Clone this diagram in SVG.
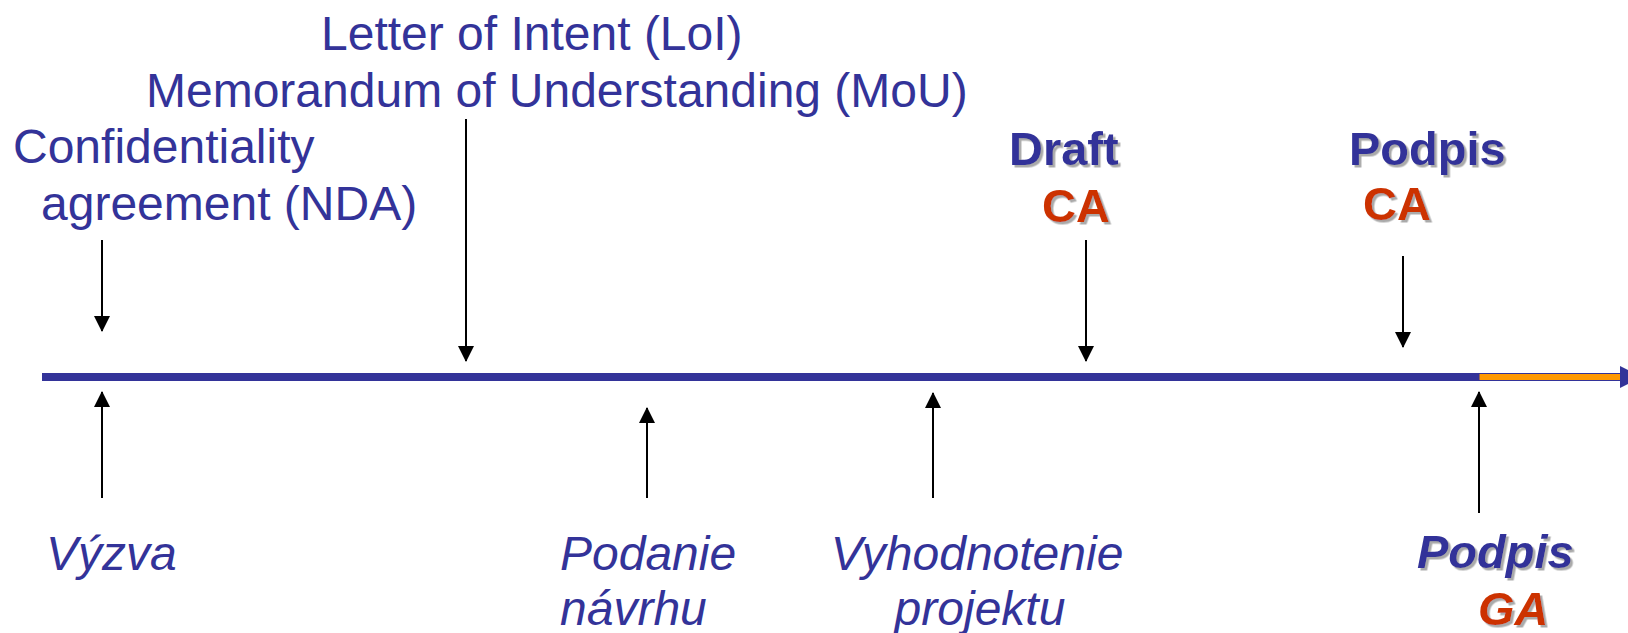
<svg xmlns="http://www.w3.org/2000/svg" width="1628" height="633" viewBox="0 0 1628 633">
<style>
.t{font-family:"Liberation Sans",Arial,sans-serif;font-size:48px;fill:#333399}
.i{font-style:italic}
.b{font-weight:bold;font-size:47px;filter:url(#sh)}
.r{fill:#CC3300}
.a{stroke:#000;stroke-width:2;fill:none;marker-end:url(#ah)}
</style>
<defs>
<marker id="ah" viewBox="0 0 16 16" refX="15" refY="8" markerWidth="16" markerHeight="16" markerUnits="userSpaceOnUse" orient="auto"><path d="M0,0 L16,8 L0,16 z" fill="#000"/></marker>
<filter id="sh" x="-10%" y="-10%" width="130%" height="130%"><feDropShadow dx="2.5" dy="2.5" stdDeviation="0.6" flood-color="#aaaaaa" flood-opacity="1"/></filter>
</defs>
<g id="timeline">
<rect x="42" y="373" width="1437" height="8" fill="#333399"/>
<rect x="1479" y="373.5" width="143" height="7" fill="#FF9900" stroke="#333399" stroke-width="1"/>
<path d="M1620,366 L1642,377 L1620,388 z" fill="#333399"/>
</g>
<g id="connectors">
<line class="a" x1="102" y1="240" x2="102" y2="331"/>
<line class="a" x1="466" y1="119" x2="466" y2="361"/>
<line class="a" x1="1086" y1="240" x2="1086" y2="361"/>
<line class="a" x1="1403" y1="256" x2="1403" y2="347"/>
<line class="a" x1="102" y1="498" x2="102" y2="392"/>
<line class="a" x1="647" y1="498" x2="647" y2="408"/>
<line class="a" x1="933" y1="498" x2="933" y2="393"/>
<line class="a" x1="1479" y1="513" x2="1479" y2="392"/>
</g>
<g id="nda"><text class="t" x="13" y="163">Confidentiality</text><text class="t" x="41" y="220">agreement (NDA)</text></g>
<g id="loi"><text class="t" x="321" y="50">Letter of Intent (LoI)</text><text class="t" x="146" y="107">Memorandum of Understanding (MoU)</text></g>
<g id="draft-ca"><text class="t b" x="1009" y="165">Draft</text><text class="t b r" x="1042" y="222">CA</text></g>
<g id="podpis-ca"><text class="t b" x="1349" y="165">Podpis</text><text class="t b r" x="1363" y="220">CA</text></g>
<g id="vyzva"><text class="t i" x="46" y="570">Výzva</text></g>
<g id="podanie"><text class="t i" x="560" y="570">Podanie</text><text class="t i" x="560" y="625">návrhu</text></g>
<g id="vyhodnotenie"><text class="t i" x="977" y="570" text-anchor="middle">Vyhodnotenie</text><text class="t i" x="980" y="625" text-anchor="middle">projektu</text></g>
<g id="podpis-ga"><text class="t b i" x="1417" y="568">Podpis</text><text class="t b i r" x="1478" y="625">GA</text></g>
</svg>
